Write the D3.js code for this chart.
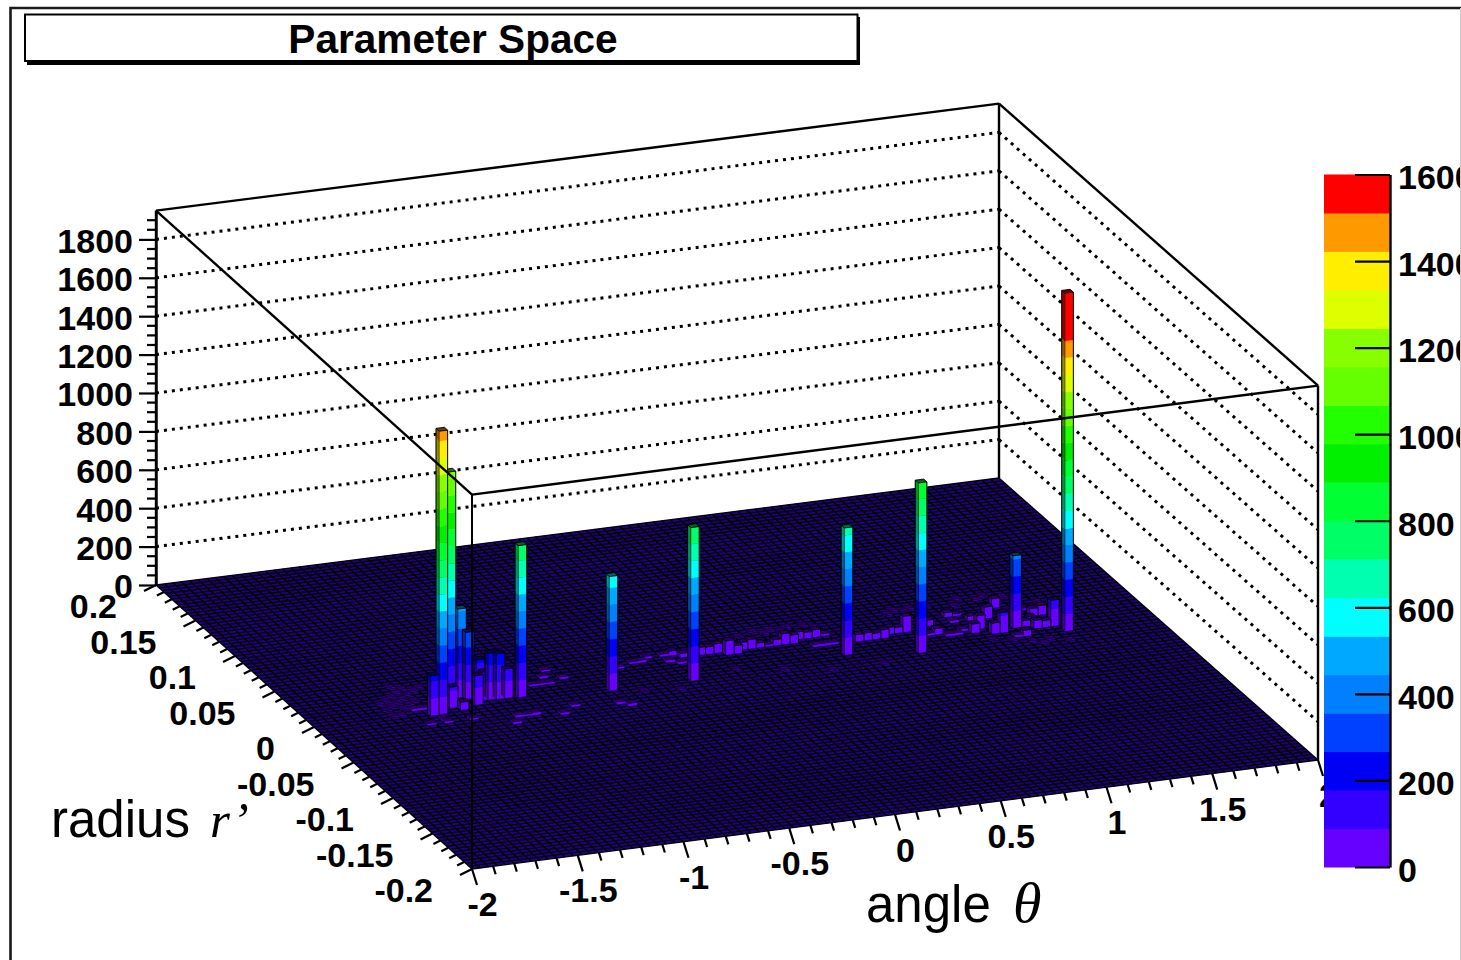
<!DOCTYPE html>
<html><head><meta charset="utf-8">
<style>html,body{margin:0;padding:0;background:#fff;overflow:hidden}svg{display:block}</style>
<script src="https://cdn.jsdelivr.net/npm/d3@7/dist/d3.min.js"></script></head>
<body><svg id="c" width="1461" height="960"></svg>
<script>
// ---- chart data ----
const titleText = "Parameter Space";
const thetaTicks = [-2,-1.5,-1,-0.5,0,0.5,1,1.5,2];
const radiusTicks = [-0.2,-0.15,-0.1,-0.05,0,0.05,0.1,0.15,0.2];
const countTicks = [0,200,400,600,800,1000,1200,1400,1600,1800];
const paletteTicks = [0,200,400,600,800,1000,1200,1400,1600];
const palette = ["#6600ff","#3300ff","#0000f5","#0040ff","#0080ff","#00a8ff","#00ffff","#00ffb0","#00ff66",
  "#00ff33","#00f000","#22ff00","#66ff00","#88ff00","#ddff00","#ffee00","#ff9900","#ff0000"];
// histogram cells: angle bin, radius bin (100 x 100 bins), entries
const peakThetaBin =  [14.45,16.85,18.33,18.93,24.6,34.8,44.4,63.3,71.2,83.9,88.9];
const peakRadiusBin = [49.0,52.85,53.45,52.64,51.1,49.57,49.43,51.33,49.01,53.0,49.95];
const peakCount =     [1474,1190,460,347,790,594,797,661,885,375,1760];
const midThetaBin =  [13.4,16.24,17.15,19.24,20.26,20.47,21.24,22.14,23.11];
const midRadiusBin = [48.9,50.5,49.45,50.52,52.71,51.69,51.63,51.41,51.39];
const midCount =     [208,108,40,151,195,145,240,235,151];
const lowThetaBin =  [48,49,50,51,52,53,54,55,56,57,58,59,60,61,62,63,61,62,63,66,67,68,69,70,71,72,75,74,75,78,79,78,76,77,78,79,80,80,82,81,84,82,87,87,88,88,85,86,86,87,83,84,45,46,41,42,44,45,44,12,13,12,14,14,17,21,22,23,24,27,29,34,35,30,29,31,27,28,29,38,40];
const lowRadiusBin = [57,57,57,56,56,57,57,57,57,57,57,57,58,58,58,58,55,55,55,55,55,55,55,56,56,56,57,54,54,59,59,57,53,53,54,53,57,54,57,52,60,52,58,56,56,52,53,54,52,52,50,50,58,57,57,58,58,55,56,51,51,46,47,46,46,43,45,45,45,44,46,45,44,58,56,55,54,54,54,56,57];
const lowCount =     [40,37,47,73,42,38,47,24,10,30,55,43,38,31,38,12,12,12,12,35,38,31,43,35,30,82,30,12,31,23,12,12,12,12,12,47,23,70,60,55,48,104,12,38,48,135,31,31,41,35,12,30,23,20,12,12,12,12,12,12,12,10,10,10,10,12,12,10,14,12,12,12,14,10,12,12,10,10,10,10,10];
const faintThetaBin =  [9,10,10,11,11,12,12,13,13,11,12,9,14,15,10,9,12,13,52,54,55,56,57,58,59,60,62,63,72,73,74,75,77,80,81,83,84,86,87,89,90,80,82,84,86,88,85,38,42,50,55,60,66];
const faintRadiusBin = [52,53,55,54,56,55,57,56,58,52,53,54,57,58,50,50,59,54,60,61,60,62,61,62,61,62,62,61,62,63,62,63,63,62,64,63,64,63,62,60,58,50,49,48,48,47,47,48,47,51,49,47,47];
const faintCount = 3;
const labelR = "radius ", labelRVar = "r\u2019", labelA = "angle ", labelAVar = "\u03b8";

// ---- scales ----
const front=[472,869], right=[1318,760], left=[156,585], back=[999,478];
const uScale = d3.scaleLinear().domain([-2,2]).range([0,1]);
const vScale = d3.scaleLinear().domain([-0.2,0.2]).range([0,1]);
const binTheta = d3.scaleLinear().domain([0,100]).range([-2,2]);
const binRadius = d3.scaleLinear().domain([0,100]).range([-0.2,0.2]);
const zMax = 1950;
const zScale = d3.scaleLinear().domain([0,zMax]).range([0,374.4]);
const barScale = d3.scaleLinear().domain([0,1600]).range([867,174.5]);
const bandOf = d3.scaleQuantize().domain([0,1600]).range(palette);
const bandW = 1600/palette.length;

function project(theta,radius,z){
  const u=uScale(theta), v=vScale(radius);
  const mix=k=>(1-u)*(1-v)*front[k]+u*(1-v)*right[k]+(1-u)*v*left[k]+u*v*back[k];
  return [mix(0),mix(1)-zScale(z||0)];
}
const svg=d3.select("#c");
const font="'Liberation Sans',Arial,sans-serif";
const poly=(pts)=>"M"+pts.map(p=>p.map(n=>n.toFixed(2)).join(",")).join("L")+"Z";
const seg=(g,a,b,w,dash)=>g.append("line").attr("x1",a[0]).attr("y1",a[1]).attr("x2",b[0]).attr("y2",b[1])
  .attr("stroke","#000").attr("stroke-width",w).attr("stroke-dasharray",dash||null);

// frame of the picture
svg.append("path").attr("d","M10.5,960V8H1461").attr("fill","none").attr("stroke","#1a1a1a").attr("stroke-width",2.6);

// title box
svg.append("rect").attr("x",27).attr("y",17).attr("width",833).attr("height",48).attr("fill","#000");
svg.append("rect").attr("x",25).attr("y",14.5).attr("width",832.5).attr("height",46.5).attr("fill","#fff").attr("stroke","#000").attr("stroke-width",2);
svg.append("text").attr("x",453).attr("y",53).attr("text-anchor","middle").attr("font-family",font).attr("font-weight","bold").attr("font-size",40.6).text(titleText);

// back walls: dotted grid
const walls=svg.append("g");
countTicks.filter(d=>d>0).forEach(z=>{
  seg(walls,project(-2,0.2,z),project(2,0.2,z),3,"3 5");
  seg(walls,project(2,0.2,z),project(2,-0.2,z),3,"3 5");
});
seg(walls,project(-2,0.2,0),project(-2,0.2,zMax),2.4);
seg(walls,project(2,0.2,0),project(2,0.2,zMax),2.4);
seg(walls,project(-2,0.2,zMax),project(2,0.2,zMax),2.4);
seg(walls,project(2,0.2,zMax),project(2,-0.2,zMax),2.4);

// floor
const floor=svg.append("g");
floor.append("path").attr("d",poly([project(-2,-0.2),project(2,-0.2),project(2,0.2),project(-2,0.2)])).attr("fill","#1e0670");
d3.range(0,101).forEach(i=>{
  seg(floor,project(binTheta(i),-0.2),project(binTheta(i),0.2),1.35).attr("stroke","#03000f");
  seg(floor,project(-2,binRadius(i)),project(2,binRadius(i)),1.35).attr("stroke","#03000f");
});

// cells
const cells=[];
const addCells=(tb,rb,c)=>tb.forEach((t,i)=>cells.push({t,r:rb[i],n:Array.isArray(c)?c[i]:c}));
addCells(peakThetaBin,peakRadiusBin,peakCount);
addCells(midThetaBin,midRadiusBin,midCount);
addCells(lowThetaBin,lowRadiusBin,lowCount);
addCells(faintThetaBin,faintRadiusBin,faintCount);
cells.sort((a,b)=>(b.r-a.r)||(b.t-a.t));
const bars=svg.append("g");
cells.forEach(c=>{
  const t0=binTheta(c.t),t1=binTheta(c.t+1),r0=binRadius(c.r),r1=binRadius(c.r+1);
  const g=bars.append("g");
  const topCol=bandOf(Math.min(c.n,1599));
  // colour bands stacked up the bar
  palette.forEach((col,band)=>{
    const z=band*bandW;
    if(z>=c.n) return;
    const zTop=band===palette.length-1?c.n:Math.min((band+1)*bandW,c.n);
    const dark=d3.color(col).darker(1.5);
    g.append("path").attr("d",poly([project(t0,r1,z),project(t0,r0,z),project(t0,r0,zTop),project(t0,r1,zTop)]))
      .attr("fill",dark).attr("stroke",dark).attr("stroke-width",0.3);
    g.append("path").attr("d",poly([project(t0,r0,z),project(t1,r0,z),project(t1,r0,zTop),project(t0,r0,zTop)]))
      .attr("fill",col).attr("stroke",col).attr("stroke-width",0.3);
  });
  g.append("path").attr("d",poly([project(t0,r0,c.n),project(t1,r0,c.n),project(t1,r1,c.n),project(t0,r1,c.n)]))
    .attr("fill",d3.color(topCol).darker(2.6)).attr("stroke","#000").attr("stroke-width",c.n>20?0.9:0.5);
  if(c.n>20){
    seg(g,project(t1,r0,0),project(t1,r0,c.n),1);
    seg(g,project(t0,r1,0),project(t0,r1,c.n),1);
    seg(g,project(t0,r0,0),project(t0,r0,c.n),0.6);
  }
});

// front edges of the box
const box=svg.append("g");
seg(box,project(-2,-0.2,0),project(-2,-0.2,zMax),2);
seg(box,project(2,-0.2,0),project(2,-0.2,zMax),2.4);
seg(box,project(-2,-0.2,zMax),project(2,-0.2,zMax),2.4);
seg(box,project(-2,0.2,zMax),project(-2,-0.2,zMax),2.4);

// count axis
const zAxisG=svg.append("g").attr("transform",`translate(${left[0]},${left[1]})`);
const zAxisScale=d3.scaleLinear().domain([0,zMax]).range([0,-374.4]);
const zAxis=d3.axisLeft(zAxisScale).tickValues(countTicks).tickSizeInner(17).tickSizeOuter(0).tickPadding(6).tickFormat(d3.format("d"));
zAxisG.call(zAxis);
zAxisG.select(".domain").attr("stroke-width",2.4);
zAxisG.selectAll(".tick line").attr("stroke-width",2.2);
zAxisG.selectAll("text").attr("font-family",font).attr("font-weight","bold").attr("font-size",34).attr("fill","#000").attr("dy","0.38em");
const zMinor=d3.range(0,zMax,50).filter(d=>d%200!==0);
zAxisG.selectAll(".m").data(zMinor).join("line").attr("x1",-9).attr("x2",0).attr("y1",zAxisScale).attr("y2",zAxisScale).attr("stroke","#000").attr("stroke-width",2.2);

// radius axis
const rg=svg.append("g");
d3.range(-20,21).forEach(i=>{
  const d=i/100, p=project(-2,d), major=i%5===0;
  seg(rg,p,[p[0]+(major?-12:-7),p[1]+(major?6:3.5)],2.2);
});
rg.selectAll("text").data(radiusTicks).join("text")
  .attr("x",d=>project(-2,d)[0]-39).attr("y",d=>project(-2,d)[1]+33)
  .attr("text-anchor","end").attr("font-family",font).attr("font-weight","bold").attr("font-size",34)
  .text(d=>String(d));

// angle axis
const tg=svg.append("g");
d3.range(-20,21).forEach(i=>{
  const d=i/10, p=project(d,-0.2), major=i%5===0;
  seg(tg,p,[p[0]+(major?5:2.5),p[1]+(major?16:8)],2.2);
});
tg.selectAll("text").data(thetaTicks).join("text")
  .attr("x",d=>project(d,-0.2)[0]+10.5).attr("y",d=>project(d,-0.2)[1]+47)
  .attr("text-anchor","middle").attr("font-family",font).attr("font-weight","bold").attr("font-size",34)
  .text(d=>String(d));

// palette
const pal=svg.append("g");
pal.selectAll("rect").data(palette).join("rect")
  .attr("x",1324).attr("width",66)
  .attr("y",(d,i)=>barScale((i+1)*bandW)).attr("height",(d,i)=>barScale(i*bandW)-barScale((i+1)*bandW)+0.5)
  .attr("fill",d=>d);
const palAxis=svg.append("g").attr("transform","translate(1390,0)")
  .call(d3.axisRight(barScale).tickValues(paletteTicks).tickSizeInner(-35).tickSizeOuter(0).tickPadding(8).tickFormat(d3.format("d")));
palAxis.select(".domain").attr("stroke-width",2.4);
palAxis.selectAll(".tick line").attr("stroke-width",2.2);
palAxis.selectAll("text").attr("font-family",font).attr("font-weight","bold").attr("font-size",34).attr("fill","#000").attr("dy","0.42em");

// axis captions
const cap=(x,y,a,b,dx,size)=>{
  const t=svg.append("text").attr("x",x).attr("y",y).attr("font-family",font).attr("font-size",51).style("white-space","pre");
  t.append("tspan").text(a);
  t.append("tspan").attr("dx",dx).attr("font-size",size).attr("font-family","'Liberation Serif','Times New Roman',serif").attr("font-style","italic").text(b);
};
cap(51,837,labelR,labelRVar,6,51);
cap(866,922,labelA,labelAVar,8,58);

svg.append("line").attr("x1",1460.5).attr("x2",1460.5).attr("y1",8).attr("y2",960).attr("stroke","#ccc");
</script></body></html>
